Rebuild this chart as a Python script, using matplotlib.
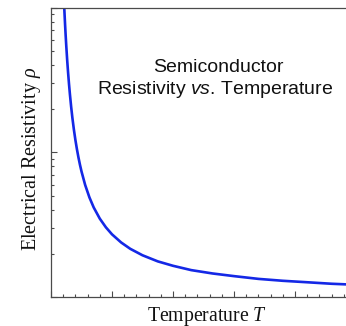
import matplotlib
matplotlib.use("Agg")
import matplotlib.pyplot as plt
from matplotlib.ticker import FixedLocator, NullFormatter

# Data (temperature in arbitrary units, resistivity on log scale)
temperature = [0.21, 0.22, 0.23, 0.24, 0.25, 0.265, 0.28, 0.295, 0.31, 0.33, 0.35,
               0.375, 0.40, 0.425, 0.45, 0.475, 0.50, 0.56, 0.63, 0.70, 0.80, 0.90,
               1.00, 1.15, 1.30, 1.50, 1.75, 2.00, 2.30, 2.65, 3.00, 3.40, 3.80,
               4.20, 4.60, 5.00]
resistivity = [11.7, 9.42, 7.73, 6.45, 5.46, 4.35, 3.56, 2.97, 2.52, 2.07, 1.74,
               1.439, 1.218, 1.052, 0.923, 0.821, 0.739, 0.596, 0.489, 0.417, 0.349, 0.304,
               0.272, 0.239, 0.216, 0.195, 0.177, 0.165, 0.154, 0.146, 0.140, 0.134, 0.130,
               0.127, 0.124, 0.122]

x_major = [0, 1, 2, 3, 4, 5]
x_minor = [i * 0.2 for i in range(26)]
y_major = [0.1, 1, 10]
y_minor = [m * d for d in (0.1, 1) for m in range(2, 10)]

title_line1 = "Semiconductor"
title_line2 = r"Resistivity $\mathbf{vs}$. Temperature"
xlabel = r"Temperature $T$"
ylabel = r"Electrical Resistivity $\rho$"

plt.rcParams['mathtext.fontset'] = 'custom'
plt.rcParams['mathtext.rm'] = 'Liberation Serif'
plt.rcParams['mathtext.it'] = 'Liberation Serif:italic'
plt.rcParams['mathtext.bf'] = 'Liberation Sans:italic'

W, H = 346, 326
fig = plt.figure(figsize=(W / 100, H / 100), dpi=100)
left, right, top, bottom = 51, 356, 7.5, 297.3
ax = fig.add_axes([left / W, (H - bottom) / H, (right - left) / W, (bottom - top) / H])

ax.plot(temperature, resistivity, color='#1428e6', lw=1.9, solid_capstyle='round')
ax.set_yscale('log')
ax.set_xlim(0, 5)
ax.set_ylim(0.1, 10)

ax.xaxis.set_major_locator(FixedLocator(x_major))
ax.xaxis.set_minor_locator(FixedLocator(x_minor))
ax.yaxis.set_major_locator(FixedLocator(y_major))
ax.yaxis.set_minor_locator(FixedLocator(y_minor))
ax.xaxis.set_major_formatter(NullFormatter())
ax.xaxis.set_minor_formatter(NullFormatter())
ax.yaxis.set_major_formatter(NullFormatter())
ax.yaxis.set_minor_formatter(NullFormatter())

spine_col = '#4a4a4a'
ax.tick_params(which='major', direction='in', length=4.2, width=0.8, color=spine_col,
               top=False, right=False)
ax.tick_params(which='minor', direction='in', length=2.4, width=0.8, color=spine_col,
               top=False, right=False)
for s in ('left', 'bottom', 'top'):
    ax.spines[s].set_color(spine_col)
    ax.spines[s].set_linewidth(0.9)
ax.spines['right'].set_visible(False)

fig.text(218 / W, 1 - 72 / H, title_line1, ha='center', va='baseline',
         fontsize=14, family='Liberation Sans', color='#111111')
fig.text(215 / W, 1 - 93.5 / H, title_line2, ha='center', va='baseline',
         fontsize=14, family='Liberation Sans', color='#111111')

fig.text(206.7 / W, 1 - 320.5 / H, xlabel, ha='center', va='baseline',
         fontsize=14.2, family='Liberation Serif', color='#111111')
fig.text(36 / W, 1 - 159 / H, ylabel, ha='center', va='baseline', rotation=90,
         rotation_mode='anchor', fontsize=14.5, family='Liberation Serif', color='#111111')

fig.savefig('out.png', dpi=100)
